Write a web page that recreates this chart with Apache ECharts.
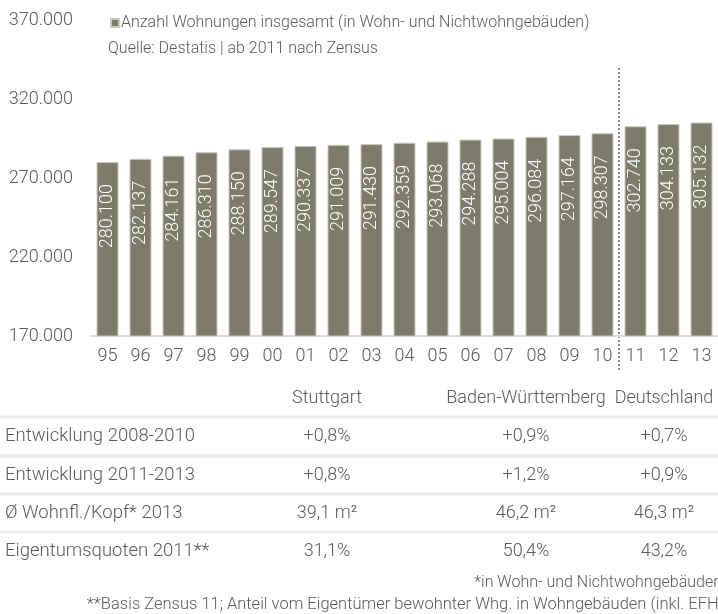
<!DOCTYPE html>
<html>
<head>
<meta charset="utf-8">
<script src="https://cdn.jsdelivr.net/npm/echarts@6/dist/echarts.min.js"></script>
<style>
  html, body { margin: 0; padding: 0; background: #fff; }
  #chart { width: 718px; height: 614px; }
</style>
</head>
<body>
<div id="chart"></div>
<script>
// Jahre (95 = 1995 ... 13 = 2013)
var years = ['95', '96', '97', '98', '99', '00', '01', '02', '03', '04', '05', '06', '07', '08', '09', '10', '11', '12', '13'];
// Anzahl Wohnungen insgesamt
var wohnungen = [280100, 282137, 284161, 286310, 288150, 289547, 290337, 291009, 291430, 292359,
                 293068, 294288, 295004, 296084, 297164, 298307, 302740, 304133, 305132];

// Tabelle unter dem Diagramm
var tableCols = ['Stuttgart', 'Baden-Württemberg', 'Deutschland'];
var rowLabels = ['Entwicklung 2008-2010', 'Entwicklung 2011-2013', 'Ø Wohnfl./Kopf* 2013', 'Eigentumsquoten 2011**'];
var stuttgart = ['+0,8%', '+0,8%', '39,1 m²', '31,1%'];
var badenWue = ['+0,9%', '+1,2%', '46,2 m²', '50,4%'];
var deutschland = ['+0,7%', '+0,9%', '46,3 m²', '43,2%'];
var footnotes = ['*in Wohn- und Nichtwohngebäuden',
                 '**Basis Zensus 11; Anteil vom Eigentümer bewohnter Whg. in Wohngebäuden (inkl. EFH)'];

var FONT = 'Roboto';
var TXT = '#5a5a5a';

function fmt(v) {
    return String(v).replace(/\B(?=(\d{3})+(?!\d))/g, '.');
}

var chart = echarts.init(document.getElementById('chart'));

// Tabelle als graphic-Elemente
var colX = [327, 526, 664];
var rowY = [436, 475, 513, 551];
var lineY = [417, 456, 494, 532];
var tableEls = [];
tableCols.forEach(function (c, i) {
    tableEls.push({ type: 'text', x: colX[i], y: 398,
        style: { text: c, fill: TXT, font: '300 18px ' + FONT, align: 'center', verticalAlign: 'middle' } });
});
lineY.forEach(function (y) {
    tableEls.push({ type: 'line', shape: { x1: 0, y1: y, x2: 718, y2: y },
        style: { stroke: '#ecece8', lineWidth: 3 } });
});
var cols = [stuttgart, badenWue, deutschland];
rowLabels.forEach(function (l, r) {
    tableEls.push({ type: 'text', x: 5, y: rowY[r],
        style: { text: l, fill: TXT, font: '300 18.5px ' + FONT, align: 'left', verticalAlign: 'middle' } });
    cols.forEach(function (col, i) {
        tableEls.push({ type: 'text', x: colX[i], y: rowY[r],
            style: { text: col[r], fill: TXT, font: '300 18px ' + FONT, align: 'center', verticalAlign: 'middle' } });
    });
});
tableEls.push({ type: 'text', x: 722, y: 583,
    style: { text: footnotes[0], fill: TXT, font: '300 16px ' + FONT, align: 'right', verticalAlign: 'middle' } });
tableEls.push({ type: 'text', x: 724, y: 605,
    style: { text: footnotes[1], fill: TXT, font: '300 16.5px ' + FONT, align: 'right', verticalAlign: 'middle' } });

var option = {
    animation: false,
    textStyle: { fontFamily: FONT },
    title: {
        text: 'Quelle: Destatis | ab 2011 nach Zensus',
        left: 103,
        top: 36,
        textStyle: { fontSize: 16, fontWeight: 300, color: TXT }
    },
    legend: {
        left: 105,
        top: 10,
        icon: 'rect',
        itemWidth: 8,
        itemHeight: 8,
        data: ['Anzahl Wohnungen insgesamt (in Wohn- und Nichtwohngebäuden)'],
        textStyle: { fontSize: 16, fontWeight: 300, color: TXT, padding: [0, 0, 0, -3] }
    },
    grid: {
        left: 91,
        top: 20,
        width: 631,
        height: 316
    },
    xAxis: {
        type: 'category',
        data: years,
        axisTick: { show: false },
        axisLine: { lineStyle: { color: '#dcdcdc', width: 2 } },
        axisLabel: { color: TXT, fontSize: 18, fontWeight: 300, margin: 11 }
    },
    yAxis: {
        type: 'value',
        min: 170000,
        max: 370000,
        interval: 50000,
        splitLine: { show: false },
        axisLine: { show: false },
        axisTick: { show: false },
        axisLabel: { color: TXT, fontSize: 18, fontWeight: 300, margin: 18, formatter: fmt }
    },
    series: [{
        name: 'Anzahl Wohnungen insgesamt (in Wohn- und Nichtwohngebäuden)',
        type: 'bar',
        data: wohnungen,
        barWidth: 22,
        itemStyle: { color: '#7d7b69', borderColor: '#c9c8bd', borderWidth: 1 },
        label: {
            show: true,
            position: 'insideTop',
            rotate: 90,
            align: 'right',
            verticalAlign: 'middle',
            distance: 22,
            color: '#fff',
            fontSize: 18,
            fontWeight: 300,
            formatter: function (p) { return fmt(p.value); }
        }
    }],
    graphic: tableEls
};
chart.setOption(option);

// gepunktete Trennlinie zwischen 2010 und 2011 (Zensus)
var x10 = chart.convertToPixel({ xAxisIndex: 0 }, '10');
var x11 = chart.convertToPixel({ xAxisIndex: 0 }, '11');
var xSep = (x10 + x11) / 2;
tableEls.push({ type: 'line', shape: { x1: xSep, y1: 68, x2: xSep, y2: 372 },
    style: { stroke: '#8a8a80', lineWidth: 2, lineDash: [2, 2] } });
chart.setOption({ graphic: tableEls });
</script>
</body>
</html>
